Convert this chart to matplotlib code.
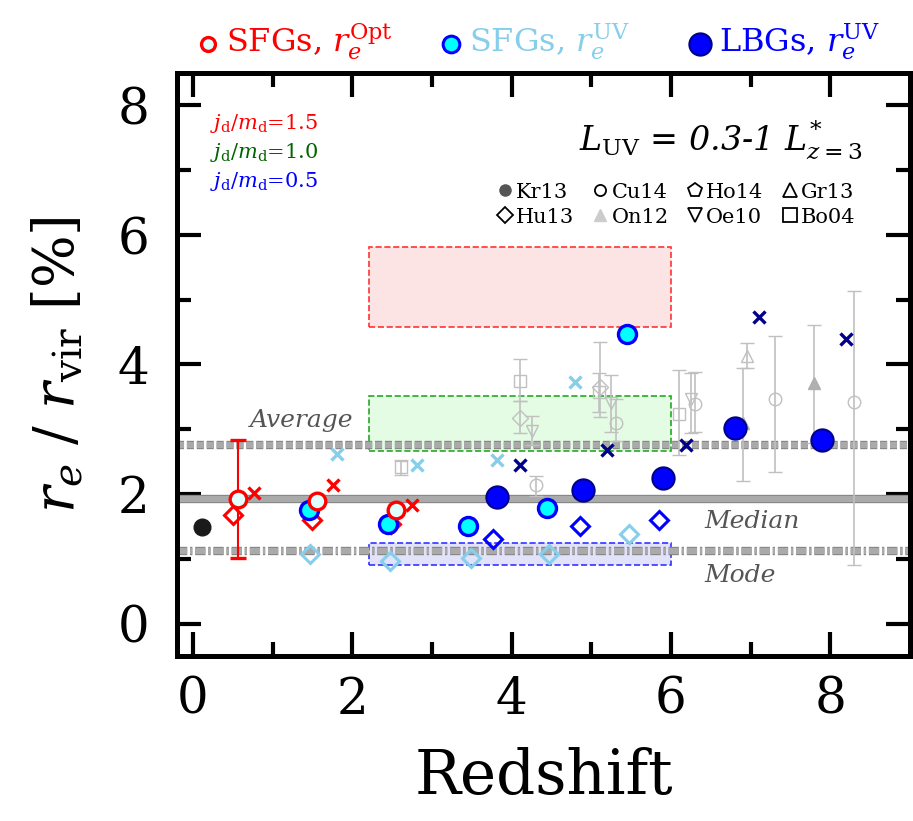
import matplotlib
matplotlib.use("Agg")
import matplotlib.pyplot as plt
import matplotlib.patheffects as pe
from matplotlib.lines import Line2D
from matplotlib.patches import Rectangle

plt.rcParams['font.family'] = ['DejaVu Serif']
plt.rcParams['mathtext.fontset'] = 'dejavuserif'

# --- data (redshift, r_e / r_vir in %) ---
# SFGs, optical sizes
sfg_opt_z = [0.56, 1.56, 2.55]
sfg_opt_r = [1.92, 1.89, 1.76]
sfg_opt_err_lo = [0.91, 0, 0]
sfg_opt_err_hi = [0.92, 0, 0]
sfg_opt_dia_z = [0.50, 1.50, 2.49]
sfg_opt_dia_r = [1.67, 1.60, 1.53]
sfg_opt_x_z = [0.76, 1.76, 2.75]
sfg_opt_x_r = [2.01, 2.14, 1.83]

# SFGs, UV sizes
sfg_uv_z = [1.46, 2.45, 3.45, 4.45, 5.45]
sfg_uv_r = [1.76, 1.53, 1.50, 1.78, 4.47]
sfg_uv_dia_z = [1.47, 2.47, 3.49, 4.47, 5.47]
sfg_uv_dia_r = [1.08, 0.97, 1.02, 1.08, 1.39]
sfg_uv_x_z = [1.81, 2.81, 3.81, 4.80]
sfg_uv_x_r = [2.62, 2.45, 2.53, 3.73]

# LBGs, UV sizes
lbg_z = [3.81, 4.90, 5.90, 6.80, 7.90]
lbg_r = [1.96, 2.06, 2.24, 3.02, 2.84]
lbg_dia_z = [3.76, 4.86, 5.85]
lbg_dia_r = [1.31, 1.51, 1.60]
lbg_x_z = [4.11, 5.20, 6.19, 7.10, 8.20]
lbg_x_r = [2.45, 2.68, 2.76, 4.74, 4.40]

# literature
kr13_z, kr13_r = [0.11], [1.49]
cu14_z = [4.31, 5.31, 6.30, 7.31, 8.30]
cu14_r = [2.14, 3.10, 3.39, 3.47, 3.42]
cu14_lo = [0.17, 0.28, 0.44, 1.13, 2.52]
cu14_hi = [0.14, 0.36, 0.50, 0.97, 1.71]
hu13_z = [4.10, 5.11]
hu13_r = [3.18, 3.66]
hu13_lo = [0.24, 0.47]
hu13_hi = [0.25, 0.68]
oe10_z = [4.25, 5.25, 6.25]
oe10_r = [2.97, 3.41, 3.46]
oe10_lo = [0.21, 0.45, 0.52]
oe10_hi = [0.23, 0.42, 0.41]
bo04_z = [2.61, 4.10, 5.10, 6.10]
bo04_r = [2.41, 3.75, 3.57, 3.24]
bo04_lo = [0.11, 0.32, 0.30, 0.63]
bo04_hi = [0.11, 0.33, 0.30, 0.67]
gr13_z, gr13_r = [6.96], [4.13]
gr13_lo, gr13_hi = [0.19], [0.20]
on12_z = [6.91, 7.80]
on12_r = [3.09, 3.71]
on12_lo = [0.89, 0.92]
on12_hi = [0.85, 0.90]

# model boxes (z range, r range) for j_d/m_d
box_z = [2.21, 6.0]
box_r = {'1.5': [4.58, 5.81], '1.0': [2.66, 3.51], '0.5': [0.90, 1.24]}

r_average = 2.76
r_median = 1.92
r_mode = 1.12

grey = '#c0c0c0'

fig = plt.figure(figsize=(9.13, 8.21), dpi=100)
ax = fig.add_axes([0.1939, 0.2010, 0.8028, 0.7101])

# boxes
box_style = [('1.5', '#fde4e4', '#ff3333'),
             ('1.0', '#e4fbe4', '#22aa22'),
             ('0.5', '#e2e2fa', '#3333ff')]
for key, fc, ec in box_style:
    lo, hi = box_r[key]
    ax.add_patch(Rectangle((box_z[0], lo), box_z[1] - box_z[0], hi - lo,
                           facecolor=fc, edgecolor=ec, lw=1.2, ls='--', zorder=1))

# reference lines
outline = [pe.Stroke(linewidth=6.0, foreground='#808080'), pe.Normal()]
ax.axhline(r_average, color='#aaaaaa', lw=4.6, dashes=(1.1, 0.45),
           path_effects=outline, zorder=2)
ax.axhline(r_median, color='#aaaaaa', lw=4.6, path_effects=outline, zorder=2)
ax.axhline(r_mode, color='#aaaaaa', lw=4.6, dashes=(1.6, 0.45, 0.35, 0.45),
           path_effects=outline, zorder=2)
ax.text(0.71, r_average + 0.38, 'Average', style='italic', color='#555555',
        fontsize=18, va='center')
ax.text(6.42, r_median - 0.34, 'Median', style='italic', color='#555555',
        fontsize=18, va='center')
ax.text(6.42, r_mode - 0.37, 'Mode', style='italic', color='#555555',
        fontsize=18, va='center')

# literature points
lit = dict(color=grey, mfc='none', mec=grey, ms=9, mew=1.0, ls='none',
           elinewidth=1.2, capsize=5, capthick=1.2, zorder=3)
ax.errorbar(cu14_z, cu14_r, yerr=[cu14_lo, cu14_hi], fmt='o', **lit)
ax.errorbar(hu13_z, hu13_r, yerr=[hu13_lo, hu13_hi], fmt='D', **dict(lit, ms=8))
ax.errorbar(oe10_z, oe10_r, yerr=[oe10_lo, oe10_hi], fmt='v', **lit)
ax.errorbar(bo04_z, bo04_r, yerr=[bo04_lo, bo04_hi], fmt='s', **lit)
ax.errorbar(gr13_z, gr13_r, yerr=[gr13_lo, gr13_hi], fmt='^', **lit)
ax.errorbar(on12_z, on12_r, yerr=[on12_lo, on12_hi], fmt='^',
            **dict(lit, mfc='#b0b0b0', mec='#b0b0b0'))
ax.plot(kr13_z, kr13_r, 'o', color='#1a1a1a', ms=12, zorder=4)

# SFGs optical
ax.errorbar(sfg_opt_z, sfg_opt_r, yerr=[sfg_opt_err_lo, sfg_opt_err_hi], fmt='o',
            color='red', mfc='#e0ffff', mec='red', ms=12, mew=2.4,
            elinewidth=1.5, capsize=6, capthick=1.5, zorder=6)
ax.plot(sfg_opt_dia_z, sfg_opt_dia_r, 'D', mfc='none', mec='red', ms=9, mew=2.2, zorder=5)
ax.plot(sfg_opt_x_z, sfg_opt_x_r, 'x', color='red', ms=9, mew=2.4, zorder=5)

# SFGs UV
ax.plot(sfg_uv_z, sfg_uv_r, 'o', mfc='cyan', mec='blue', ms=13, mew=2.4, zorder=5)
ax.plot(sfg_uv_dia_z, sfg_uv_dia_r, 'D', mfc='none', mec='#87ceeb', ms=9, mew=2.2, zorder=5)
ax.plot(sfg_uv_x_z, sfg_uv_x_r, 'x', color='#87ceeb', ms=9, mew=2.4, zorder=5)

# LBGs UV
ax.plot(lbg_z, lbg_r, 'o', mfc='blue', mec='#00008b', ms=16, mew=1.5, zorder=5)
ax.plot(lbg_dia_z, lbg_dia_r, 'D', mfc='none', mec='blue', ms=9, mew=2.2, zorder=5)
ax.plot(lbg_x_z, lbg_x_r, 'x', color='#00008b', ms=9, mew=2.4, zorder=5)

# model labels
for i, (lab, col) in enumerate([('1.5', 'red'), ('1.0', 'darkgreen'), ('0.5', 'blue')]):
    ax.text(0.045, 0.914 - i * 0.05, r'$j_{\rm d}/m_{\rm d}$=' + lab, color=col,
            fontsize=15, transform=ax.transAxes, va='center')

ax.text(0.935, 0.885, r'$L_{\rm UV}$ = 0.3-1 $L^{*}_{z=3}$', style='italic',
        fontsize=24, ha='right', va='center', transform=ax.transAxes)

# literature legend
lh = [Line2D([], [], ls='none', marker='o', color='#555555', ms=8),
      Line2D([], [], ls='none', marker='D', mfc='none', mec='k', ms=8, mew=1.3),
      Line2D([], [], ls='none', marker='o', mfc='none', mec='k', ms=8, mew=1.3),
      Line2D([], [], ls='none', marker='^', color='#cccccc', ms=9),
      Line2D([], [], ls='none', marker='p', mfc='none', mec='k', ms=10, mew=1.3),
      Line2D([], [], ls='none', marker='v', mfc='none', mec='k', ms=10, mew=1.3),
      Line2D([], [], ls='none', marker='^', mfc='none', mec='k', ms=10, mew=1.3),
      Line2D([], [], ls='none', marker='s', mfc='none', mec='k', ms=10, mew=1.3)]
ll = ['Kr13', 'Hu13', 'Cu14', 'On12', 'Ho14', 'Oe10', 'Gr13', 'Bo04']
ax.legend(lh, ll, ncol=4, loc='upper right', bbox_to_anchor=(0.94, 0.83),
          frameon=False, fontsize=15, handlelength=0.7, handletextpad=0.2,
          columnspacing=0.9, labelspacing=0.3, borderpad=0)

# top legend
top = [(0.228, 0.231, 'o', dict(mfc='#e0ffff', mec='red', ms=10, mew=2.4), 'red',
        r'SFGs, $r_e^{\rm Opt}$'),
       (0.494, 0.497, 'o', dict(mfc='cyan', mec='blue', ms=12, mew=2.2), '#87ceeb',
        r'SFGs, $r_e^{\rm UV}$'),
       (0.767, 0.770, 'o', dict(mfc='blue', mec='#00008b', ms=16, mew=1.5), 'blue',
        r'LBGs, $r_e^{\rm UV}$')]
for mx, tx, mk, kw, col, lab in top:
    fig.add_artist(Line2D([mx], [0.947], marker=mk, ls='none',
                          transform=fig.transFigure, **kw))
    fig.text(tx + 0.017, 0.937, lab, color=col, fontsize=23, va='baseline')

ax.set_xlim(-0.2, 9.0)
ax.set_ylim(-0.5, 8.5)
ax.set_xticks([0, 2, 4, 6, 8])
ax.set_xticks([1, 3, 5, 7], minor=True)
ax.set_yticks([0, 2, 4, 6, 8])
ax.set_yticks([1, 3, 5, 7], minor=True)
ax.tick_params(which='both', direction='in', top=True, right=True, width=3,
               labelsize=36, pad=14)
ax.tick_params(axis='y', which='both', pad=20)
ax.tick_params(which='major', length=17)
ax.tick_params(which='minor', length=10)
for s in ax.spines.values():
    s.set_linewidth(3.6)

ax.set_xlabel('Redshift', fontsize=44, labelpad=16)
ax.set_ylabel(r'$r_e$ / $r_{\rm vir}$ [%]', fontsize=40, labelpad=22)

fig.savefig('out.png', dpi=100)
